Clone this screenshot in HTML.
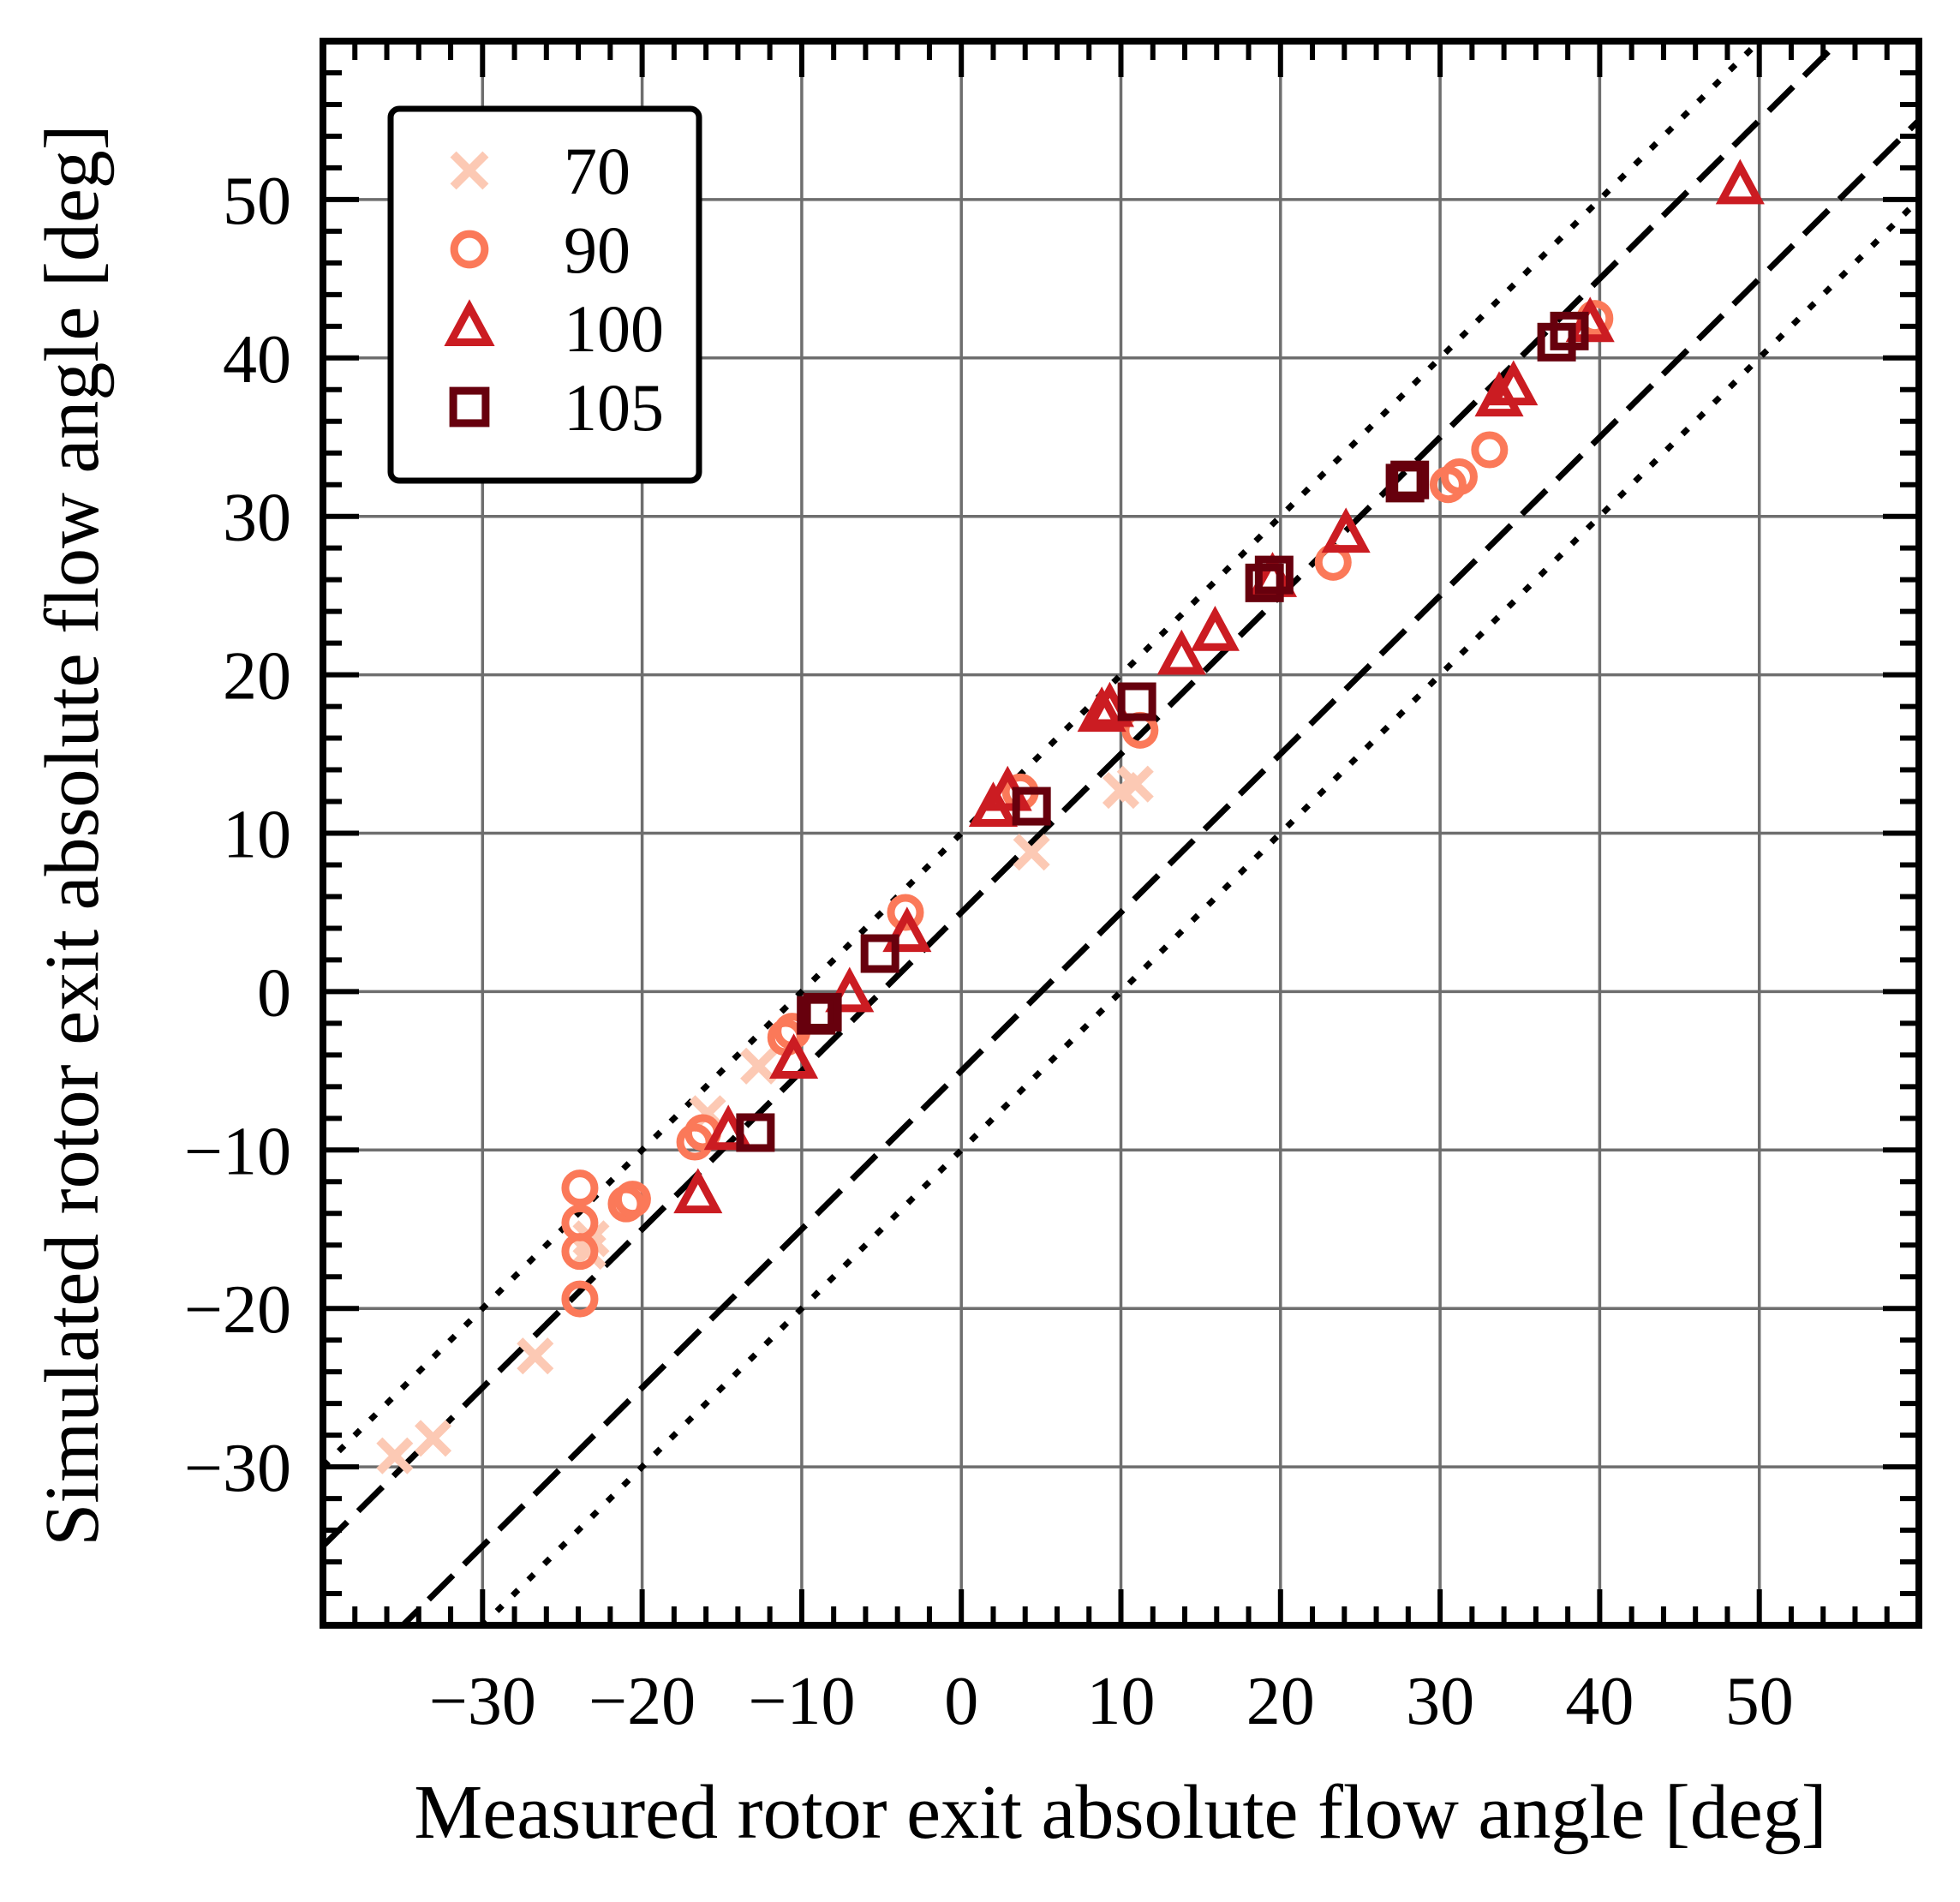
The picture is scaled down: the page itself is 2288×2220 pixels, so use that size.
<!DOCTYPE html>
<html><head><meta charset="utf-8"><style>
html,body{margin:0;padding:0;background:#fff;}
svg{display:block;}
text{font-family:"Liberation Serif",serif;fill:#000;}
</style></head><body>
<svg id="chart" width="2288" height="2220" viewBox="0 0 2288 2220" xmlns="http://www.w3.org/2000/svg">
<g id="grid"></g>
<g id="refs"></g>
<g id="marks"></g>
<g id="ticks"></g>
<rect x="377" y="48" width="1863" height="1849" fill="none" stroke="#000" stroke-width="8"/>
<g id="legend"></g>
<text x="1308" y="2145" font-size="90" text-anchor="middle">Measured rotor exit absolute flow angle [deg]</text>
<text transform="translate(114,975) rotate(-90)" font-size="90" text-anchor="middle">Simulated rotor exit absolute flow angle [deg]</text>
</svg>
<script>
const xTicks=[-30,-20,-10,0,10,20,30,40,50];
const yTicks=[-30,-20,-10,0,10,20,30,40,50];
const refOffsets=[5,-5];
const refOffsetsDotted=[10,-10];
const s70x=[-35.5,-33.1,-26.7,-23.4,-15.9,-12.7,4.4,10.0,10.9,-23.2];
const s70y=[-29.3,-28.2,-23.0,-16.4,-7.7,-4.7,8.8,12.7,13.1,-15.6];
const s90x=[-23.9,-23.9,-23.9,-23.9,-21.0,-20.6,-16.7,-16.2,-11.0,-10.6,-3.5,3.7,11.2,23.3,30.5,31.2,33.1,39.7];
const s90y=[-12.4,-14.6,-16.4,-19.4,-13.4,-13.1,-9.5,-8.9,-2.9,-2.5,5.0,12.6,16.5,27.1,32.0,32.5,34.2,42.5];
const s100x=[-16.5,-14.6,-10.5,-7.0,-3.4,2.0,2.9,8.8,9.3,13.8,15.9,19.5,24.1,33.7,34.6,39.4,48.8];
const s100y=[-12.9,-8.9,-4.4,-0.2,3.6,11.5,12.5,17.5,17.8,21.1,22.6,26.0,28.8,37.4,38.1,42.1,50.8];
const s105x=[-12.9,-9.1,-8.7,-5.1,4.4,11.0,19.0,19.6,27.8,28.1,37.3,38.1];
const s105y=[-8.9,-1.5,-1.3,2.4,11.7,18.3,25.8,26.3,32.1,32.3,41.0,41.7];
const legendLabels=["70","90","100","105"];
const NS="http://www.w3.org/2000/svg";
const X0=377,X1=2240,Y0=1897,Y1=48,DMIN=-40,DMAX=60;
const xs=v=>X0+(v-DMIN)/(DMAX-DMIN)*(X1-X0);
const ys=v=>Y0-(v-DMIN)/(DMAX-DMIN)*(Y0-Y1);
function mk(tag,attrs,parent){const e=document.createElementNS(NS,tag);for(const k in attrs)e.setAttribute(k,attrs[k]);parent.appendChild(e);return e;}
const grid=document.getElementById('grid'),ticks=document.getElementById('ticks'),refs=document.getElementById('refs'),marks=document.getElementById('marks'),legend=document.getElementById('legend');
xTicks.forEach(v=>{const l=mk('line',{x1:xs(v),x2:xs(v),y1:Y1,y2:Y0,stroke:'#6e6e6e','stroke-width':3.5},grid);


const t=mk('text',{x:xs(v),y:2012,'font-size':80,'text-anchor':'middle'},ticks);t.textContent=(v<0?'\u2212':'')+Math.abs(v);

});
yTicks.forEach(v=>{const l=mk('line',{x1:X0,x2:X1,y1:ys(v),y2:ys(v),stroke:'#6e6e6e','stroke-width':3.5},grid);


const t=mk('text',{x:340,y:ys(v)+28,'font-size':80,'text-anchor':'end'},ticks);t.textContent=(v<0?'\u2212':'')+Math.abs(v);

});
let d='';
for(let v=-38;v<60;v+=2){const major=(v%10===0);const L=major?42:22;
d+=`M${xs(v)},${Y0}v${-L}M${xs(v)},${Y1}v${L}M${X0},${ys(v)}h${L}M${X1},${ys(v)}h${-L}`;}
const tp=mk('path',{d:d,stroke:'#000','stroke-width':6,fill:'none'},ticks);


const cp=mk('clipPath',{id:'clip'},refs);mk('rect',{x:X0,y:Y1,width:X1-X0,height:Y0-Y1},cp);
function refLine(off,dash,name){const l=mk('line',{x1:xs(DMIN),y1:ys(DMIN+off),x2:xs(DMAX),y2:ys(DMAX+off),stroke:'#000','stroke-width':7,'stroke-dasharray':dash,'clip-path':'url(#clip)'},refs);

}
refOffsets.forEach(o=>refLine(o,'40 18','dashed-reference-line'));
refOffsetsDotted.forEach(o=>refLine(o,'9 17','dotted-reference-line'));
const C70='#fcc9b4',C90='#fb7959',C100='#cb1c22',C105='#67000d';
function marker(type,cx,cy,g,sc){sc=sc||1;
if(type==='x'){const r=18*sc;return mk('path',{d:`M${cx-r},${cy-r}L${cx+r},${cy+r}M${cx-r},${cy+r}L${cx+r},${cy-r}`,stroke:C70,'stroke-width':10,fill:'none'},g);}
if(type==='o'){return mk('circle',{cx:cx,cy:cy,r:17*sc,stroke:C90,'stroke-width':9,fill:'none'},g);}
if(type==='t'){const r=21*sc;return mk('path',{d:`M${cx},${cy-r*1.1}L${cx+r},${cy+r*0.75}L${cx-r},${cy+r*0.75}Z`,stroke:C100,'stroke-width':9,fill:'none'},g);}
const r=18*sc;return mk('rect',{x:cx-r,y:cy-r,width:2*r,height:2*r,stroke:C105,'stroke-width':9,fill:'none'},g);}
[[s70x,s70y,'x','series-70-point'],[s90x,s90y,'o','series-90-point'],[s100x,s100y,'t','series-100-point'],[s105x,s105y,'s','series-105-point']].forEach(([sx,sy,t,n])=>{
sx.forEach((v,i)=>{const m=marker(t,xs(v),ys(sy[i]),marks);

});});
const lb=mk('rect',{x:456,y:127,width:360,height:434,rx:10,fill:'#fff',stroke:'#000','stroke-width':7},legend);


['x','o','t','s'].forEach((t,i)=>{const cy=199+92*i;const g=mk('g',{},legend);


marker(t,548,cy,g,1.05);
const tx=mk('text',{x:658,y:cy+27,'font-size':78},g);tx.textContent=legendLabels[i];});
</script>
</body></html>
